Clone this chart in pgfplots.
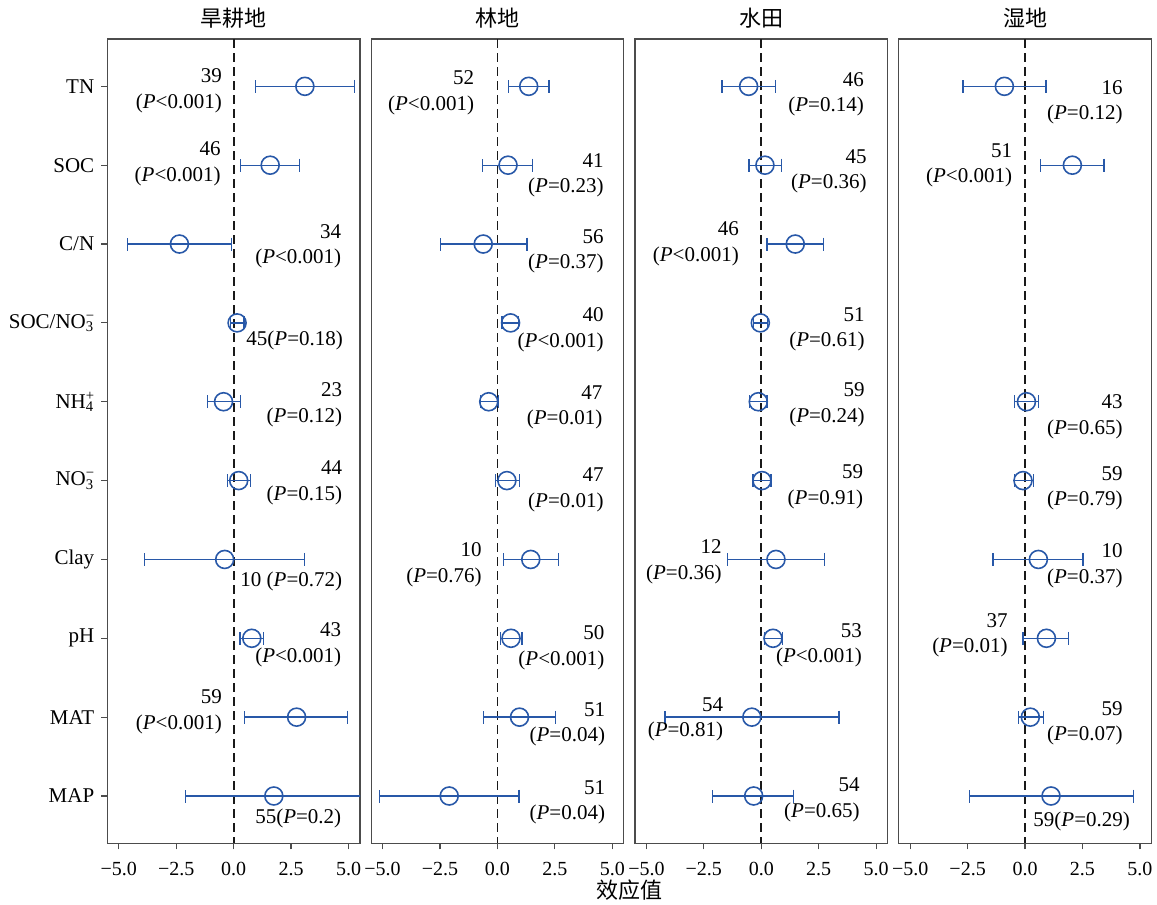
\documentclass[border=0pt]{standalone}
\usepackage{fontspec}
\setmainfont{Liberation Serif}
\newfontfamily\cjk{Noto Sans CJK SC}
\usepackage{pgfplots}
\pgfplotsset{compat=1.18}
\usepackage{pgfplotstable}
\definecolor{mblue}{RGB}{40,88,168}

% y: row (0=TN ... 9=MAP), x: effect, em/ep: error minus/plus
\pgfplotstableread{
y x em ep
0 3.10 2.15 2.16
1 1.59 1.28 1.27
2 -2.36 2.25 2.27
3 0.15 0.30 0.30
4 -0.44 0.71 0.75
5 0.22 0.50 0.51
6 -0.39 3.49 3.48
7 0.79 0.51 0.52
8 2.74 2.26 2.23
9 1.75 3.86 3.86
}\tabA
\pgfplotstableread{
y x em ep
0 1.36 0.87 0.89
1 0.46 1.10 1.06
2 -0.62 1.87 1.90
3 0.57 0.37 0.36
4 -0.38 0.37 0.44
5 0.41 0.51 0.55
6 1.45 1.20 1.20
7 0.59 0.46 0.48
8 0.96 1.57 1.58
9 -2.10 3.03 3.04
}\tabB
\pgfplotstableread{
y x em ep
0 -0.55 1.16 1.17
1 0.16 0.70 0.71
2 1.48 1.23 1.23
3 -0.04 0.30 0.30
4 -0.13 0.38 0.38
5 0.03 0.39 0.39
6 0.64 2.10 2.10
7 0.51 0.38 0.42
8 -0.41 3.78 3.80
9 -0.33 1.79 1.74
}\tabC
\pgfplotstableread{
y x em ep
0 -0.90 1.80 1.81
1 2.06 1.38 1.37
4 0.06 0.51 0.52
5 -0.09 0.37 0.47
6 0.58 1.97 1.94
7 0.93 1.02 0.97
8 0.23 0.53 0.57
9 1.13 3.56 3.59
}\tabD

\pgfplotsset{
 panel/.style={
   scale only axis, width=126.35pt, height=402.15pt,
   anchor=south west,
   xmin=-5.5, xmax=5.5, ymin=-0.6, ymax=9.6, y dir=reverse,
   xtick={-5,-2.5,0,2.5,5}, xticklabels={−5.0,−2.5,0.0,2.5,5.0},
   tick align=outside, xtick pos=bottom, ytick pos=left, major tick length=3pt,
   axis line style={black!70, line width=0.6pt},
   every tick/.style={black!70, line width=0.6pt},
   xticklabel style={font=\fontsize{10}{12}\selectfont, yshift=-3pt},
   yticklabel style={font=\fontsize{10.5}{12}\selectfont},
   title style={font=\cjk\fontsize{11}{13}\selectfont, at={(0.5,1)}, anchor=center, yshift=4.5pt},
 },
 dat/.style={only marks, mark=o, mark size=4.5pt, color=mblue,
   mark options={line width=0.8pt, fill=none},
   error bars/.cd, x dir=both, x explicit,
   error mark=|,
   error bar style={line width=0.65pt, mblue},
   error mark options={mark size=3.25pt, line width=0.65pt, mblue}},
 zl/.style={black!90, dash pattern=on 4.5pt off 2.5pt, line width=0.85pt, forget plot},
}
\newcommand\pv{\textit{P}}
\newcommand\lab[3]{\node[anchor=east, align=right, inner sep=0pt, font=\fontsize{10.5}{12.8}\selectfont] at (axis cs:#1,#2) {#3};}

\begin{document}
\begin{tikzpicture}
\path[use as bounding box] (-53.65pt,-30.85pt) rectangle (524.85pt,421.65pt);

\begin{axis}[panel, at={(0pt,0pt)}, title={旱耕地},
  ytick={0,...,9},
  yticklabels={TN,SOC,C/N,{SOC/NO\rlap{\textsuperscript{−}}\textsubscript{3}},{NH\rlap{\textsuperscript{+}}\textsubscript{4}},{NO\rlap{\textsuperscript{−}}\textsubscript{3}},Clay,pH,MAT,MAP}]
\addplot[zl] coordinates {(0,-0.6) (0,9.6)};
\addplot[dat] table[x=x, y=y, x error plus=ep, x error minus=em] {\tabA};
\lab{-0.5}{0.06}{39\\(\pv<0.001)}
\lab{-0.55}{0.98}{46\\(\pv<0.001)}
\lab{4.70}{2.03}{34\\(\pv<0.001)}
\lab{4.77}{3.22}{45(\pv=0.18)}
\lab{4.74}{4.04}{23\\(\pv=0.12)}
\lab{4.74}{5.03}{44\\(\pv=0.15)}
\lab{4.74}{6.28}{10 (\pv=0.72)}
\lab{4.70}{7.08}{43\\(\pv<0.001)}
\lab{-0.5}{7.93}{59\\(\pv<0.001)}
\lab{4.70}{9.28}{55(\pv=0.2)}
\end{axis}

\begin{axis}[panel, at={(131.9pt,0pt)}, title={林地}, ytick=\empty]
\addplot[zl] coordinates {(0,-0.6) (0,9.6)};
\addplot[dat] table[x=x, y=y, x error plus=ep, x error minus=em] {\tabB};
\lab{-1.0}{0.08}{52\\(\pv<0.001)}
\lab{4.64}{1.13}{41\\(\pv=0.23)}
\lab{4.64}{2.09}{56\\(\pv=0.37)}
\lab{4.64}{3.09}{40\\(\pv<0.001)}
\lab{4.58}{4.07}{47\\(\pv=0.01)}
\lab{4.64}{5.12}{47\\(\pv=0.01)}
\lab{-0.67}{6.07}{10\\(\pv=0.76)}
\lab{4.67}{7.12}{50\\(\pv<0.001)}
\lab{4.70}{8.09}{51\\(\pv=0.04)}
\lab{4.70}{9.08}{51\\(\pv=0.04)}
\end{axis}

\begin{axis}[panel, at={(263.8pt,0pt)}, title={水田}, ytick=\empty]
\addplot[zl] coordinates {(0,-0.6) (0,9.6)};
\addplot[dat] table[x=x, y=y, x error plus=ep, x error minus=em] {\tabC};
\lab{4.48}{0.10}{46\\(\pv=0.14)}
\lab{4.60}{1.08}{45\\(\pv=0.36)}
\lab{-0.96}{2.0}{46\\(\pv<0.001)}
\lab{4.52}{3.08}{51\\(\pv=0.61)}
\lab{4.52}{4.04}{59\\(\pv=0.24)}
\lab{4.45}{5.08}{59\\(\pv=0.91)}
\lab{-1.71}{6.03}{12\\(\pv=0.36)}
\lab{4.40}{7.09}{53\\(\pv<0.001)}
\lab{-1.64}{8.03}{54\\(\pv=0.81)}
\lab{4.30}{9.05}{54\\(\pv=0.65)}
\end{axis}

\begin{axis}[panel, at={(395.7pt,0pt)}, title={湿地}, ytick=\empty]
\addplot[zl] coordinates {(0,-0.6) (0,9.6)};
\addplot[dat] table[x=x, y=y, x error plus=ep, x error minus=em] {\tabD};
\lab{4.26}{0.20}{16\\(\pv=0.12)}
\lab{-0.55}{1.0}{51\\(\pv<0.001)}
\lab{4.26}{4.19}{43\\(\pv=0.65)}
\lab{4.26}{5.10}{59\\(\pv=0.79)}
\lab{4.26}{6.08}{10\\(\pv=0.37)}
\lab{-0.74}{6.96}{37\\(\pv=0.01)}
\lab{4.26}{8.08}{59\\(\pv=0.07)}
\lab{4.58}{9.32}{59(\pv=0.29)}
\end{axis}

\node[font=\cjk\fontsize{11}{13}\selectfont] at (260.85pt,-23.6pt) {效应值};
\end{tikzpicture}
\end{document}
